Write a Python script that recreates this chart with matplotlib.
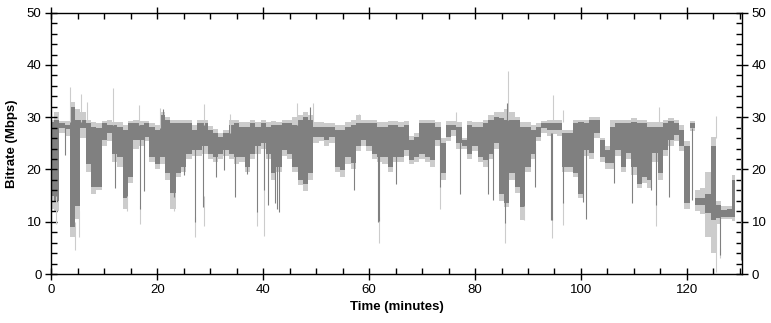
import matplotlib
matplotlib.use('Agg')
from matplotlib import pyplot as plt
from matplotlib.ticker import MultipleLocator
import numpy as np

plt.rcParams['font.family'] = ['Liberation Sans', 'DejaVu Sans']

# per-minute envelopes (Mbps), minute 0..129
dark_hi = [29.0, 29.5, 28.8, 28.6, 32.0, 29.5, 29.5, 28.8, 28.2, 27.9,
           28.8, 28.5, 28.5, 28.2, 27.5, 28.8, 28.8, 28.5, 28.8, 28.2,
           27.5, 30.4, 29.5, 28.8, 28.8, 28.8, 28.8, 27.5, 28.8, 28.8,
           27.5, 26.9, 26.3, 26.9, 28.5, 28.8, 28.2, 28.2, 28.8, 28.2,
           28.8, 28.2, 28.5, 28.5, 28.8, 28.8, 28.5, 29.5, 30.0, 29.5,
           28.2, 28.2, 28.2, 28.2, 27.6, 27.6, 28.2, 28.5, 28.8, 28.8,
           28.8, 28.8, 28.2, 28.2, 28.5, 28.5, 28.2, 28.5, 25.6, 26.3,
           28.8, 28.8, 28.8, 28.2, 25.0, 28.5, 28.5, 28.2, 25.6, 28.5,
           28.2, 28.2, 28.8, 29.5, 30.0, 29.8, 29.5, 29.5, 29.5, 28.2,
           28.2, 27.6, 28.2, 28.8, 28.8, 28.8, 28.8, 26.9, 26.9, 28.8,
           29.1, 28.8, 29.5, 29.5, 25.6, 23.7, 28.2, 28.8, 28.8, 28.8,
           29.1, 28.8, 28.8, 28.2, 28.2, 28.2, 28.8, 29.2, 28.8, 27.5,
           24.4, 28.8, 14.5, 14.5, 15.4, 24.4, 13.2, 12.2, 12.4, 18.0]
dark_lo = [15.0, 14.0, 27.9, 27.8, 9.0, 13.0, 28.0, 21.0, 16.7, 16.7,
           25.6, 26.9, 23.0, 22.4, 14.5, 18.6, 25.6, 25.6, 26.3, 22.4,
           21.0, 22.4, 19.3, 15.5, 19.3, 20.5, 23.0, 23.7, 23.7, 24.4,
           23.0, 22.4, 23.0, 23.7, 23.0, 22.4, 22.4, 20.5, 23.0, 24.4,
           25.0, 23.0, 19.3, 20.5, 23.7, 23.0, 20.5, 18.0, 17.3, 19.3,
           26.3, 26.3, 25.6, 26.3, 20.5, 19.9, 22.4, 21.2, 24.4, 25.6,
           24.4, 23.0, 22.4, 22.4, 20.5, 22.4, 22.4, 23.7, 21.8, 22.4,
           23.0, 22.4, 21.8, 25.6, 19.3, 26.3, 27.6, 25.0, 24.4, 23.0,
           24.4, 22.4, 21.8, 23.0, 25.0, 15.4, 13.5, 19.3, 16.7, 12.8,
           20.5, 23.0, 26.3, 27.9, 27.6, 27.6, 27.6, 20.5, 20.5, 19.3,
           15.4, 23.7, 23.1, 26.9, 22.4, 21.2, 21.2, 23.7, 20.5, 23.1,
           20.5, 17.3, 18.6, 18.0, 23.1, 19.3, 23.7, 25.6, 26.6, 24.4,
           13.5, 27.9, 13.2, 13.2, 11.6, 10.3, 10.8, 11.0, 11.0, 11.0]
light_hi = [29.5, 31.0, 29.3, 29.2, 33.0, 31.5, 31.0, 29.5, 29.0, 28.8,
            29.2, 29.5, 29.0, 29.0, 28.5, 29.3, 29.5, 29.2, 29.3, 28.8,
            28.5, 31.0, 30.0, 29.5, 29.5, 29.5, 29.5, 28.5, 29.5, 29.5,
            28.3, 27.8, 27.0, 27.5, 29.5, 29.5, 29.0, 29.0, 29.5, 29.0,
            29.5, 29.0, 29.2, 29.0, 29.5, 29.5, 30.0, 30.5, 31.0, 30.5,
            29.0, 29.0, 28.8, 28.8, 28.5, 28.5, 29.0, 29.5, 30.5, 29.5,
            29.5, 29.5, 29.0, 29.0, 29.2, 29.2, 29.0, 29.2, 26.5, 27.0,
            29.5, 29.5, 29.5, 29.0, 26.0, 29.2, 29.3, 29.0, 26.0, 29.2,
            29.0, 29.0, 29.5, 30.5, 31.0, 31.0, 31.5, 31.0, 30.0, 29.0,
            29.0, 28.5, 28.8, 29.3, 29.5, 29.5, 29.5, 27.5, 27.5, 29.5,
            29.5, 29.5, 30.0, 30.0, 26.0, 24.5, 29.5, 29.5, 29.5, 29.5,
            29.8, 29.5, 29.5, 29.0, 29.0, 29.0, 29.5, 29.8, 29.5, 28.5,
            25.5, 29.3, 16.0, 16.5, 19.5, 26.2, 14.0, 13.0, 13.0, 19.0]
light_lo = [12.5, 12.0, 27.0, 26.5, 7.0, 10.5, 26.0, 19.5, 15.3, 16.0,
            24.5, 25.5, 21.5, 20.5, 12.5, 17.5, 24.0, 24.5, 25.5, 21.5,
            20.0, 21.0, 18.0, 12.5, 18.5, 19.5, 22.0, 22.5, 22.5, 23.0,
            22.0, 21.5, 22.0, 22.5, 22.0, 21.0, 21.5, 19.5, 22.0, 23.0,
            24.0, 22.0, 18.0, 19.5, 22.5, 22.0, 19.5, 17.0, 15.8, 18.0,
            25.0, 25.5, 24.5, 25.0, 19.5, 18.5, 21.0, 20.0, 23.5, 24.5,
            23.5, 22.0, 21.5, 21.0, 19.5, 21.5, 21.5, 22.5, 21.0, 21.5,
            22.0, 21.5, 20.5, 24.5, 18.0, 25.5, 26.5, 24.0, 24.0, 22.0,
            23.5, 21.5, 20.5, 22.0, 24.0, 14.0, 12.9, 18.0, 15.5, 10.3,
            19.5, 22.0, 25.5, 27.0, 26.5, 26.8, 26.5, 19.5, 19.5, 18.5,
            14.5, 22.5, 22.0, 26.0, 21.5, 20.0, 20.0, 22.5, 19.5, 22.0,
            19.0, 16.5, 17.5, 16.5, 21.5, 18.0, 22.5, 24.5, 25.5, 23.5,
            12.5, 27.3, 12.0, 11.5, 7.0, 4.0, 9.5, 10.5, 10.5, 10.2]

# isolated spikes: (minute, low, high)
dark_spikes = [(2.5, 22.8, 28.0), (12.0, 16.4, 26), (16.7, 12.5, 27), (17.5, 15.8, 27),
               (23.1, 14.8, 24), (25.0, 19.0, 26), (27.1, 10.0, 26), (28.7, 12.9, 26),
               (31.1, 18.6, 25), (32.6, 19.9, 25), (34.7, 14.8, 25), (37.0, 19.2, 25),
               (38.9, 11.9, 26), (40.1, 16.0, 26), (41.0, 13.2, 26), (42.2, 13.5, 25),
               (42.6, 12.5, 25), (43.0, 11.9, 25), (57.2, 16.1, 26), (61.6, 10.0, 27),
               (61.9, 10.2, 27), (65.1, 17.3, 25), (73.3, 16.7, 26), (77.2, 15.4, 26),
               (82.5, 15.4, 25), (83.3, 14.2, 25), (85.7, 9.7, 27), (91.4, 16.7, 25),
               (94.4, 10.3, 27), (94.6, 10.3, 27), (96.6, 13.5, 27), (100.3, 13.8, 26),
               (101.0, 10.6, 26), (106.2, 17.5, 25), (109.7, 13.5, 26), (113.2, 16.1, 25),
               (114.2, 13.2, 25), (116.6, 14.8, 27), (121.0, 14.2, 28), (126.2, 3.6, 11),
               (130.25, 2.7, 30),
               (4.0, 28, 32), (21.0, 28, 31.5), (48.8, 29, 32.0), (86.1, 29, 32.7)]
light_spikes = [(0.8, 9.5, 15), (4.4, 4.6, 10), (5.2, 7.0, 12), (14.3, 12.0, 15),
                (16.7, 9.5, 13), (23.2, 12.0, 16), (27.1, 7.1, 11), (28.8, 9.1, 15),
                (38.9, 9.1, 12), (40.1, 7.3, 24), (61.8, 5.9, 11), (73.3, 12.5, 17),
                (85.7, 6.0, 10), (89.2, 10.3, 13), (94.5, 6.8, 11), (96.6, 9.3, 14),
                (114.2, 9.1, 14), (125.4, 0.3, 10), (126.2, 3.0, 5),
                (3.5, 29, 35.8), (5.7, 29, 34.5), (6.7, 29, 33.0), (11.7, 28.5, 35.5),
                (16.5, 28.5, 32.3), (20.5, 28, 31.7), (28.8, 28.5, 32.5), (33.7, 27, 30.7),
                (46.4, 28.5, 32.7), (49.4, 29, 32.7), (58.0, 29, 30.7), (76.5, 28.5, 31.0),
                (86.2, 29.5, 38.9), (94.7, 29, 34.2), (96.6, 29, 31.4), (114.7, 28.5, 32.0),
                (125.4, 26, 30.2)]

minutes = np.arange(len(dark_hi))
dark = '#808080'
light = '#cccccc'

fig = plt.figure(figsize=(7.71, 3.23), dpi=100)
ax = fig.add_axes([0.0665, 0.1517, 0.8959, 0.809])

ax.fill_between(minutes, light_lo, light_hi, step='mid', color=light, lw=0)
ls = np.array(light_spikes)
ax.vlines(ls[:, 0], ls[:, 1], ls[:, 2], color=light, lw=0.8)
ax.fill_between(minutes, dark_lo, dark_hi, step='mid', color=dark, lw=0)
ds = np.array(dark_spikes)
ax.vlines(ds[:, 0], ds[:, 1], ds[:, 2], color=dark, lw=0.8)

ax.set_xlim(0, 130.4)
ax.set_ylim(0, 50)
ax.xaxis.set_major_locator(MultipleLocator(20))
ax.xaxis.set_minor_locator(MultipleLocator(5))
ax.yaxis.set_major_locator(MultipleLocator(10))
ax.yaxis.set_minor_locator(MultipleLocator(2))
ax.tick_params(which='major', direction='inout', length=8, width=1, labelsize=9.5,
               top=True, right=True, labelright=True, pad=3)
ax.tick_params(which='minor', direction='in', length=4, width=1, top=True, right=True)
for s in ax.spines.values():
    s.set_linewidth(1)

ax.set_xlabel('Time (minutes)', fontsize=9.5, fontweight='bold', labelpad=4)
ax.set_ylabel('Bitrate (Mbps)', fontsize=9.5, fontweight='bold', labelpad=6)

fig.savefig('out.png', dpi=100)
